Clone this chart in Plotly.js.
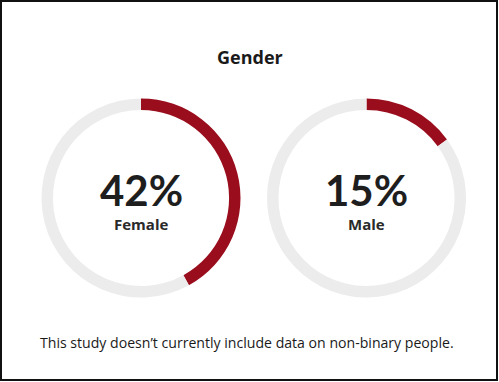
<!DOCTYPE html>
<html><head><meta charset="utf-8">
<script src="https://cdn.plot.ly/plotly-3.0.1.min.js"></script>
<style>html,body{margin:0;padding:0;background:#fff}#chart{width:499px;height:382px}</style>
</head><body><div id="chart"></div>
<script>
const categories = ["Female", "Male"];
const shares = [42, 15];
const titleText = "Gender";
const noteText = "This study doesn\u2019t currently include data on non-binary people.";

const W = 499, H = 382;
const centersX = [141, 366.5];
const centerY = 198;
const R = 99.5;
const red = "#990d1d", gray = "#ececec";
const font = "Lato, 'Open Sans', sans-serif";
const font2 = "'Open Sans', Lato, sans-serif";

const traces = categories.map((c, i) => ({
  type: "pie",
  values: [shares[i], 100 - shares[i]],
  labels: [c, "Other"],
  sort: false,
  direction: "clockwise",
  rotation: 0,
  hole: 0.885,
  textinfo: "none",
  hoverinfo: "skip",
  showlegend: false,
  marker: {colors: [red, gray], line: {width: 0}},
  domain: {
    x: [(centersX[i] - R) / W, (centersX[i] + R) / W],
    y: [(H - centerY - R) / H, (H - centerY + R) / H]
  }
}));

const annotations = [
  {text: "<b>" + titleText + "</b>", x: 250 / W, y: 1 - 57 / H, xref: "paper", yref: "paper",
   showarrow: false, font: {family: font2, size: 18, color: "#1a1a1a"}, xanchor: "center", yanchor: "middle"},
  {text: noteText, x: 247 / W, y: 1 - 342 / H, xref: "paper", yref: "paper",
   showarrow: false, font: {family: font2, size: 14.1, color: "#1a1a1a"}, xanchor: "center", yanchor: "middle"}
];
categories.forEach((c, i) => {
  annotations.push({text: "<b>" + shares[i] + "%</b>", x: centersX[i] / W, y: 1 - 190 / H,
    xref: "paper", yref: "paper", showarrow: false, xanchor: "center", yanchor: "middle",
    font: {family: font, size: 42, color: "#1e1e1e"}});
  annotations.push({text: "<b>" + c + "</b>", x: centersX[i] / W, y: 1 - 224 / H,
    xref: "paper", yref: "paper", showarrow: false, xanchor: "center", yanchor: "middle",
    font: {family: font2, size: 15, color: "#2a2a2a"}});
});

const layout = {
  width: W, height: H,
  margin: {l: 0, r: 0, t: 0, b: 0},
  paper_bgcolor: "#fff",
  annotations: annotations,
  shapes: [{type: "rect", xref: "paper", yref: "paper",
    x0: 1 / W, x1: 497 / W, y0: 1 - 380 / H, y1: 1 - 1 / H,
    line: {color: "#111", width: 2}, fillcolor: "rgba(0,0,0,0)"}]
};
Plotly.newPlot("chart", traces, layout, {displayModeBar: false, staticPlot: true});
</script></body></html>
